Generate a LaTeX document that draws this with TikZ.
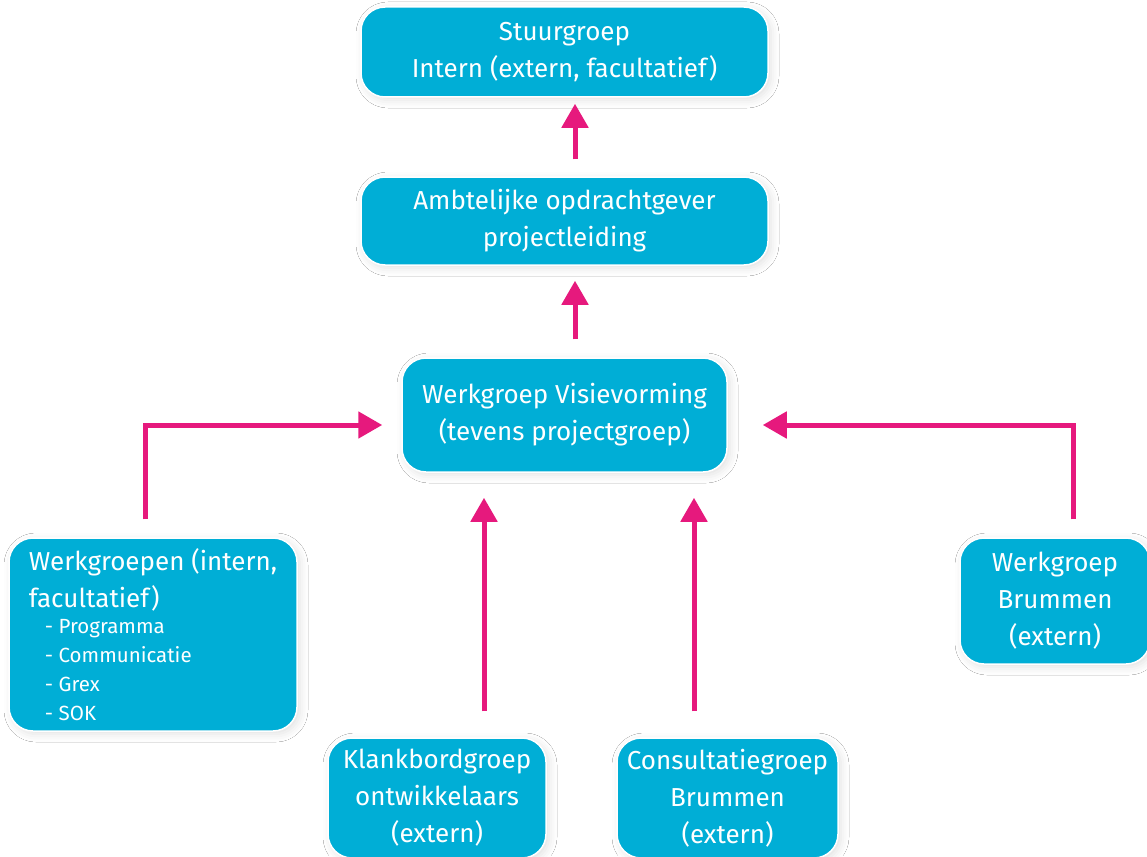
\documentclass[tikz,border=0pt]{standalone}
\usepackage{fontspec}
\setmainfont{Fira Sans}
\usetikzlibrary{arrows.meta,shadows.blur}
\definecolor{boxcyan}{RGB}{0,174,214}
\definecolor{arrpink}{RGB}{230,25,125}
\newcommand{\wgitem}[1]{\fontsize{20.5}{29}\selectfont\hspace*{16pt}- #1}
\tikzset{
  orgbox/.style={rectangle, rounded corners=24pt, fill=boxcyan, draw=white, line width=1.5pt,
    text=white, align=center, inner sep=0pt,
    font=\fontsize{26}{37}\selectfont,
    blur shadow={shadow xshift=3pt, shadow yshift=-3pt, shadow blur radius=8pt, shadow opacity=12}},
  arr/.style={draw=arrpink, line width=5pt, -{Triangle[width=26pt,length=24pt]}}
}
\begin{document}
\begin{tikzpicture}[x=1pt,y=-1pt]
\useasboundingbox (0,0) rectangle (1147,856);
\fill[white] (0,0) rectangle (1147,856);
% boxes
\node[orgbox, minimum width=407pt, minimum height=90pt] (stuur) at (564.5,52) {Stuurgroep\\Intern (extern, facultatief)};
\node[orgbox, minimum width=407pt, minimum height=88pt] (amb) at (564.5,221) {Ambtelijke opdrachtgever\\projectleiding};
\node[orgbox, minimum width=325pt, minimum height=114pt] (visie) at (564.5,415) {Werkgroep Visievorming\\(tevens projectgroep)};
\node[orgbox, minimum width=288pt, minimum height=193pt, align=left] (wg) at (153,634.5)
  {Werkgroepen (intern,\\facultatief)\\[-11pt]
   \wgitem{Programma}\\[-8pt]\wgitem{Communicatie}\\[-8pt]\wgitem{Grex}\\[-8pt]\wgitem{SOK}};
\node[orgbox, minimum width=218pt, minimum height=120pt] (klank) at (437,798) {Klankbordgroep\\ontwikkelaars\\(extern)};
\node[orgbox, minimum width=221pt, minimum height=120pt] (cons) at (727.5,798) {Consultatiegroep\\Brummen\\(extern)};
\node[orgbox, minimum width=190pt, minimum height=126pt] (brum) at (1055,601) {Werkgroep\\Brummen\\(extern)};
% helper coordinates
\coordinate (ax) at (575,0);
\coordinate (kx) at (484,0);
\coordinate (cx) at (694,0);
\coordinate (lx) at (145,0);
\coordinate (rx) at (1073,0);
\coordinate (ly) at (0,425);
% connectors
\draw[arr, shorten <=17pt, shorten >=6pt] (amb.north -| ax) -- (stuur.south -| ax);
\draw[arr, shorten <=18pt, shorten >=15pt] (visie.north -| ax) -- (amb.south -| ax);
\draw[arr, shorten <=26pt, shorten >=25pt] (klank.north -| kx) -- (visie.south -| kx);
\draw[arr, shorten <=26pt, shorten >=25pt] (cons.north -| cx) -- (visie.south -| cx);
\draw[arr, shorten <=18pt, shorten >=19pt] (wg.north -| lx) |- (visie.west |- ly);
\draw[arr, shorten <=18pt, shorten >=35pt] (brum.north -| rx) |- (visie.east |- ly);
\end{tikzpicture}
\end{document}
